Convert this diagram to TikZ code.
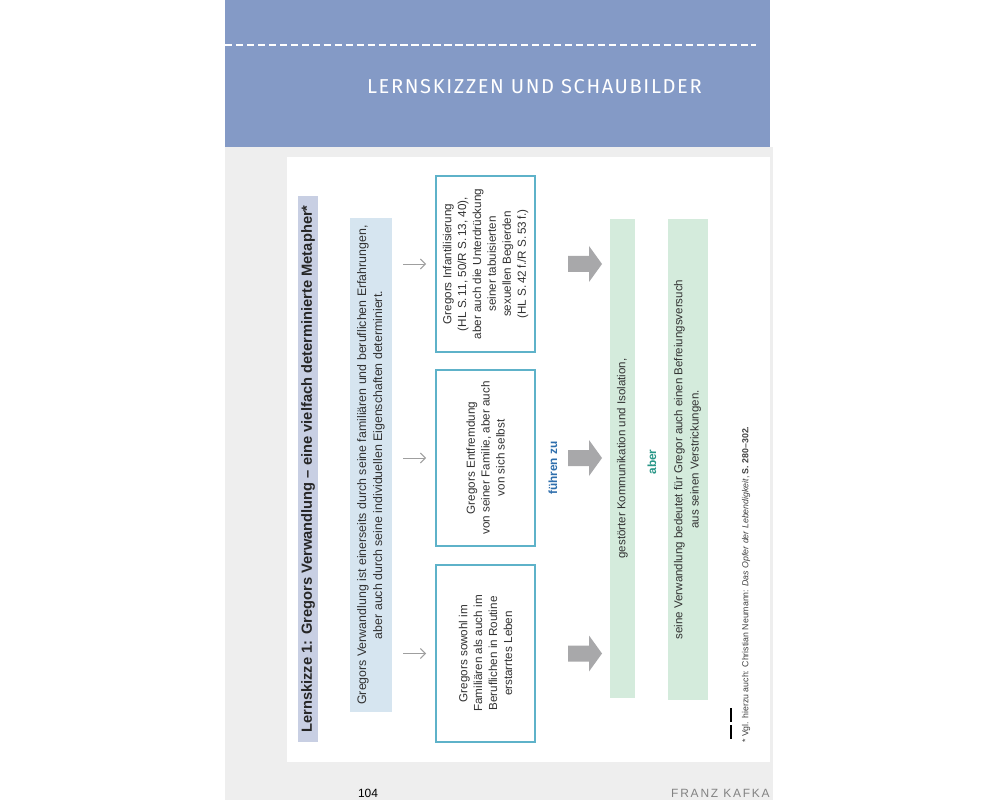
\documentclass[tikz,border=0pt]{standalone}
\usepackage{fontspec}
\setmainfont{Liberation Sans}
\newfontfamily\headfont{Fira Sans}
\usetikzlibrary{arrows.meta}
\definecolor{bandblue}{RGB}{132,154,198}
\definecolor{pagegrey}{RGB}{238,238,238}
\definecolor{titlebar}{RGB}{200,207,227}
\definecolor{lightblue}{RGB}{214,229,240}
\definecolor{boxframe}{RGB}{94,178,201}
\definecolor{lightgreen}{RGB}{212,235,220}
\definecolor{arrowgrey}{RGB}{168,168,170}
\definecolor{fuehrblue}{RGB}{46,110,172}
\definecolor{aberteal}{RGB}{40,150,135}
\definecolor{textgrey}{RGB}{50,50,50}
\definecolor{footgrey}{RGB}{130,130,130}
\begin{document}
\begin{tikzpicture}[x=0.025cm,y=-0.025cm,
  bodyfont/.style={font=\fontsize{8.2}{11.4}\selectfont},
  bar/.style={rotate=90, inner sep=0pt, align=center, text=textgrey, bodyfont},
  framebox/.style={rotate=90, draw=boxframe, line width=1.4pt, fill=white,
    minimum width=4.4cm, minimum height=2.475cm, align=center, inner sep=0pt,
    text=textgrey, font=\fontsize{8.3}{10.6}\selectfont},
  smallarrow/.style={draw=gray!75, line width=0.7pt,
    -{Straight Barb[length=3.5pt,width=7pt]}, shorten <=7.8pt, shorten >=6.4pt},
  bigarrow/.style={fill=arrowgrey},
  label/.style={rotate=90, inner sep=0pt, font=\bfseries\fontsize{8.4}{10}\selectfont}]
\useasboundingbox (0,0) rectangle (1000,800);
\fill[white] (0,0) rectangle (1000,800);
% page
\fill[pagegrey] (225,147) rectangle (773,800);
\fill[bandblue] (225,0) rectangle (770,147);
\draw[white, line width=2pt, dash pattern=on 5.2pt off 2.6pt] (225,45) -- (756,45);
\node[text=white, inner sep=0pt, anchor=east] (head) at (702,87)
  {\headfont\addfontfeatures{LetterSpace=8}\fontsize{14.3}{16}\selectfont LERNSKIZZEN UND SCHAUBILDER};
\fill[white] (287,157) rectangle (770,762);
% footer
\node[inner sep=0pt, anchor=base] (pnum) at (368,797) {\fontsize{8.5}{9}\selectfont 104};
\node[inner sep=0pt, anchor=base east, text=footgrey] (fk) at (770,797)
  {\addfontfeatures{LetterSpace=15}\fontsize{8.5}{9}\selectfont FRANZ KAFKA};
% title bar
\node[bar, fill=titlebar, minimum width=13.65cm, minimum height=0.5cm,
  font=\bfseries\fontsize{10.45}{11}\selectfont, text=black!85] (title) at (308,469)
  {Lernskizze 1: Gregors Verwandlung -- eine vielfach determinierte Metapher*};
% blue box
\node[bar, fill=lightblue, minimum width=12.35cm, minimum height=1.05cm,
  font=\fontsize{8.8}{11.4}\selectfont] (intro) at (371,465)
  {Gregors Verwandlung ist einerseits durch seine familiären und beruflichen Erfahrungen,\\
   aber auch durch seine individuellen Eigenschaften determiniert.};
% three boxes
\node[framebox] (b1) at (485.5,264)
  {Gregors Infantilisierung\\(HL S.\,11, 50/R S.\,13, 40),\\aber auch die Unterdrückung\\seiner tabuisierten\\sexuellen Begierden\\(HL S.\,42\,f./R S.\,53\,f.)};
\node[framebox] (b2) at (485.5,458)
  {Gregors Entfremdung\\von seiner Familie, aber auch\\von sich selbst};
\node[framebox] (b3) at (485.5,653.5)
  {Gregors sowohl im\\Familiären als auch im\\Beruflichen in Routine\\erstarrtes Leben};
% small arrows
\draw[smallarrow] (intro.south |- b1.north) -- (b1.north);
\draw[smallarrow] (intro.south |- b2.north) -- (b2.north);
\draw[smallarrow] (intro.south |- b3.north) -- (b3.north);
% big arrows
\coordinate (a1) at (568,264);
\coordinate (a2) at (568,458);
\coordinate (a3) at (568,653.5);
\foreach \a in {a1,a2,a3}
  \fill[bigarrow] (\a) ++(0,-8) -- ++(21,0) -- ++(0,-10) -- ++(13,18) -- ++(-13,18) -- ++(0,-10) -- ++(-21,0) -- cycle;
\node[label, text=fuehrblue] (fz) at (553,468) {führen zu};
% green bars
\node[bar, fill=lightgreen, minimum width=11.975cm, minimum height=0.625cm] (g1) at (622.5,458.5)
  {gestörter Kommunikation und Isolation,};
\node[label, text=aberteal] (aber) at (652,462) {aber};
\node[bar, fill=lightgreen, minimum width=12.025cm, minimum height=1.0cm] (g2) at (687.5,459.5)
  {seine Verwandlung bedeutet für Gregor auch einen Befreiungsversuch\\aus seinen Verstrickungen.};
% footnote
\coordinate (r1) at (731,708);
\coordinate (r2) at (731,742);
\draw[black, line width=1.3pt, dash pattern=on 10pt off 2.1pt] (r1) -- (r2);
\node[rotate=90, anchor=west, inner sep=0pt, text=black!75, font=\fontsize{6.25}{7}\selectfont] (fn) at (746,743)
  {* Vgl. hierzu auch: Christian Neumann: \textit{Das Opfer der Lebendigkeit}, \textbf{S. 280--302.}};
\end{tikzpicture}
\end{document}
